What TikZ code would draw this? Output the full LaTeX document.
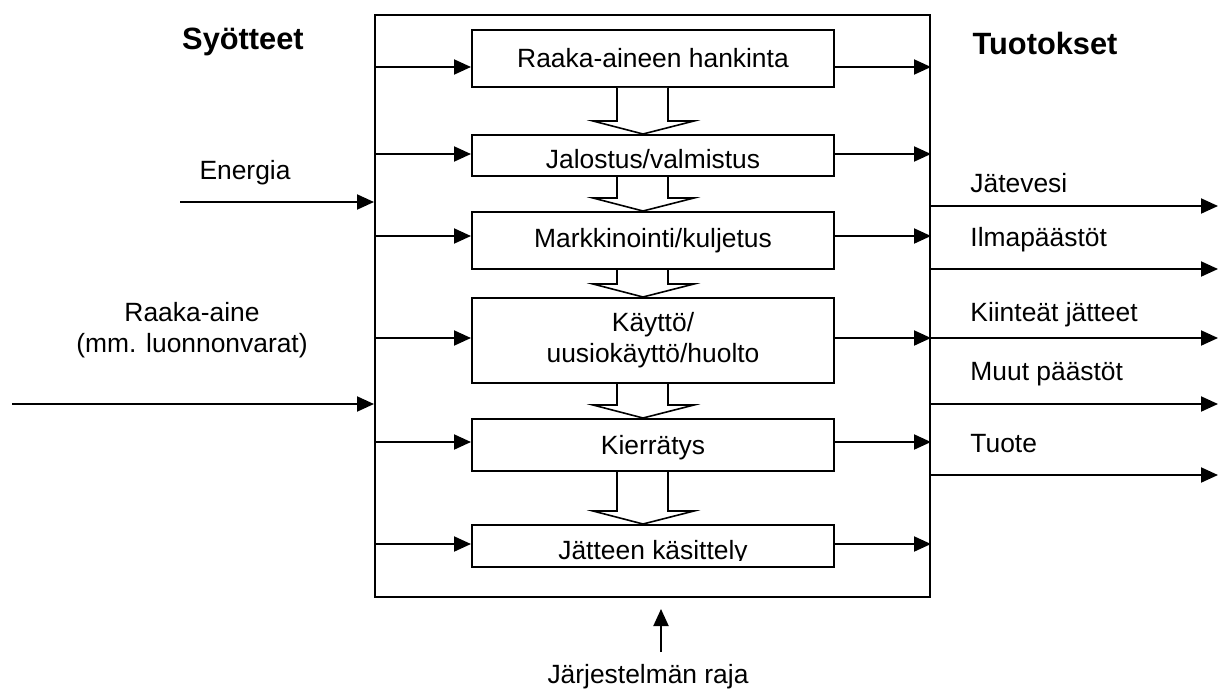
\documentclass[tikz,border=0pt]{standalone}
\usepackage{fontspec}
\setmainfont{Liberation Sans}
\usetikzlibrary{arrows.meta}

\tikzset{
  box/.style={draw,line width=1pt,minimum width=181pt,inner sep=0pt},
  arr/.style={line width=1pt,-{Triangle[length=8.5pt,width=7.5pt]}},
  hollow/.style={line width=0.8pt,fill=white,line join=miter},
  lbl/.style={inner sep=0pt},
  head/.style={inner sep=0pt,font=\fontsize{15.4}{18}\selectfont\bfseries},
}

\begin{document}
\begin{tikzpicture}[x=0.5pt,y=-0.5pt,font=\fontsize{13.2}{15.5}\selectfont]
\useasboundingbox (0,0) rectangle (1219,690);
% system boundary
\node[draw,line width=1pt,minimum width=277.5pt,minimum height=291pt] (sys) at (652.5,306) {};
% stages
\node[box,minimum height=28.5pt] (b1) at (653,58.5) {Raaka-aineen hankinta};
\node[box,minimum height=20.5pt] (b2) at (653,155.5) {};
\node[box,minimum height=28.5pt] (b3) at (653,240.5) {Markkinointi/kuljetus};
\node[box,minimum height=42.5pt,align=center] (b4) at (653,340.5) {Käyttö/\\uusiokäyttö/huolto};
\node[box,minimum height=26pt,text depth=0pt] (b5) at (653,445) {Kierrätys};
\node[box,minimum height=21pt] (b6) at (653,546) {};
% texts cut by the box
\begin{scope}
  \clip ([yshift=4pt]b2.south west) rectangle (b2.north east);
  \node[lbl,anchor=base] (t2) at ([yshift=4.5pt]b2.south) {Jalostus/valmistus};
\end{scope}
\begin{scope}
  \clip ([yshift=4pt]b6.south west) rectangle (b6.north east);
  \node[lbl,anchor=base] (t6) at ([yshift=4.5pt]b6.south) {Jätteen käsittely};
\end{scope}
% flow between stages
\foreach \a/\b in {b1/b2,b2/b3,b3/b4,b4/b5,b5/b6}
  \draw[hollow] ([xshift=-18pt]\a.south) -- ([xshift=-18pt,yshift=6.5pt]\b.north)
    -- ([xshift=-30pt,yshift=6.5pt]\b.north) -- ([xshift=-5pt]\b.north)
    -- ([xshift=20.5pt,yshift=6.5pt]\b.north) -- ([xshift=7.5pt,yshift=6.5pt]\b.north)
    -- ([xshift=7.5pt]\a.south);
% arrows in and out of the stages
\foreach \b/\y in {b1/67,b2/154,b3/236,b4/338,b5/442,b6/544}{
  \draw[arr] (sys.west |- 0,\y) -- (\b.west |- 0,\y);
  \draw[arr] (\b.east |- 0,\y) -- (sys.east |- 0,\y);
}
% inputs
\node[head,anchor=base] (syo) at (243,50) {Syötteet};
\node[lbl,anchor=base] (energia) at (245,179) {Energia};
\node[lbl,anchor=base,align=center] (raaka) at (192,352) {Raaka-aine\\(mm. luonnonvarat)};
\coordinate (eIn) at (180,202);
\coordinate (rIn) at (12,404);
\draw[arr] (eIn) -- (sys.west |- eIn);
\draw[arr] (rIn) -- (sys.west |- rIn);
% outputs
\node[head,anchor=base] (tuo) at (1045,55) {Tuotokset};
\foreach \n/\y/\t/\ty in {jv/206/Jätevesi/192,ip/269/Ilmapäästöt/246,kj/338/Kiinteät jätteet/321,mp/404/Muut päästöt/380,tu/475/Tuote/452}{
  \node[lbl,anchor=base west] (\n) at (970,\ty) {\t};
  \coordinate (\n Out) at (1218,\y);
  \draw[arr] (sys.east |- \n Out) -- (\n Out);
}
% system boundary label
\node[lbl,anchor=base] (raja) at (648,683) {Järjestelmän raja};
\draw[arr] ([xshift=4.25pt,yshift=-27pt]sys.south) -- ([xshift=4.25pt,yshift=-5.5pt]sys.south);
\end{tikzpicture}
\end{document}
